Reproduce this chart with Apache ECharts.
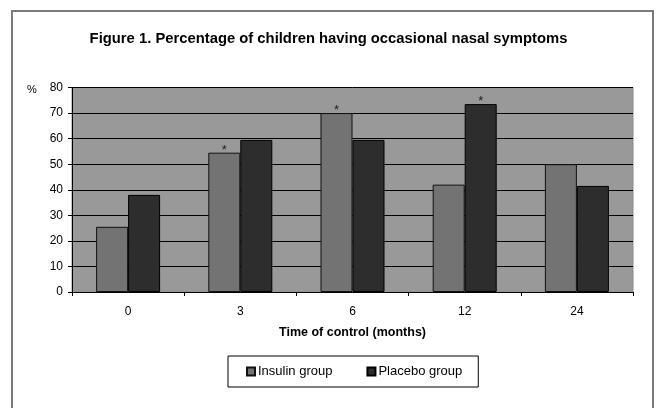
<!DOCTYPE html>
<html>
<head>
<meta charset="utf-8">
<script src="https://cdn.jsdelivr.net/npm/echarts@6/dist/echarts.min.js"></script>
<style>
html,body{margin:0;padding:0;background:#fff;}
#chart{width:657px;height:408px;}
</style>
</head>
<body>
<div id="chart"></div>
<script>
var categories = ['0', '3', '6', '12', '24'];
var insulin = [25.5, 54.5, 70, 42, 50];
var placebo = [38, 59.5, 59.5, 73.5, 41.5];
var insulinMarks = ['', '*', '*', '', ''];
var placeboMarks = ['', '', '', '*', ''];
var yTicks = [0, 10, 20, 30, 40, 50, 60, 70, 80];

var FONT = '"Liberation Sans", Arial, sans-serif';
var chart = echarts.init(document.getElementById('chart'), null, {renderer: 'canvas'});
chart.setOption({
  animation: false,
  backgroundColor: '#ffffff',
  textStyle: {fontFamily: FONT},
  graphic: [{
    type: 'rect', silent: true, z: -1,
    shape: {x: 12, y: 11, width: 641, height: 430},
    style: {fill: 'none', stroke: '#7a7a7a', lineWidth: 2}
  }],
  title: [{
    text: 'Figure 1. Percentage of children having occasional nasal symptoms',
    left: 'center', top: 26,
    textStyle: {fontFamily: FONT, fontSize: 14.8, fontWeight: 'bold', color: '#000'}
  }, {
    text: '%', left: 22, top: 79,
    textStyle: {fontFamily: FONT, fontSize: 11, fontWeight: 'normal', color: '#000'}
  }],
  grid: {left: 72, right: 24, top: 87.5, bottom: 116, show: true, backgroundColor: '#999999', borderColor: '#8a8a8a', borderWidth: 1},
  legend: {
    data: ['Insulin group', 'Placebo group'],
    left: 228, top: 356,
    orient: 'horizontal',
    backgroundColor: '#fff', borderColor: '#000', borderWidth: 1,
    padding: [9, 16, 9, 18],
    itemWidth: 8, itemHeight: 8, itemGap: 34,
    icon: 'rect',
    textStyle: {fontFamily: FONT, fontSize: 13, color: '#000', padding: [0, 0, 0, -2]}
  },
  xAxis: {
    type: 'category', data: categories,
    name: 'Time of control (months)', nameLocation: 'middle', nameGap: 34,
    nameTextStyle: {fontFamily: FONT, fontSize: 12.5, fontWeight: 'bold', color: '#000'},
    axisLine: {lineStyle: {color: '#000', width: 1}},
    axisTick: {show: true, length: 4, inside: false, lineStyle: {color: '#000'}},
    axisLabel: {fontFamily: FONT, fontSize: 12, color: '#000', margin: 14},
    splitLine: {show: false}
  },
  yAxis: {
    type: 'value', min: 0, max: 80, interval: 10,
    axisLine: {show: true, lineStyle: {color: '#000', width: 1}},
    axisTick: {show: true, length: 4, lineStyle: {color: '#000'}},
    axisLabel: {fontFamily: FONT, fontSize: 12, color: '#000', margin: 9,
      formatter: function (v) { return yTicks.indexOf(v) >= 0 ? String(v) : ''; }},
    splitLine: {show: true, lineStyle: {color: '#000', width: 1}}
  },
  series: [{
    name: 'Insulin group', type: 'bar', data: insulin,
    barWidth: 32, barGap: '0%',
    itemStyle: {color: '#737373', borderColor: '#111', borderWidth: 1},
    label: {show: true, position: 'top', distance: -4, fontSize: 13, color: '#222',
      formatter: function (p) { return insulinMarks[p.dataIndex]; }}
  }, {
    name: 'Placebo group', type: 'bar', data: placebo,
    barWidth: 32,
    itemStyle: {color: '#2d2d2d', borderColor: '#000', borderWidth: 1},
    label: {show: true, position: 'top', distance: -4, fontSize: 13, color: '#222',
      formatter: function (p) { return placeboMarks[p.dataIndex]; }}
  }]
});
</script>
</body>
</html>
